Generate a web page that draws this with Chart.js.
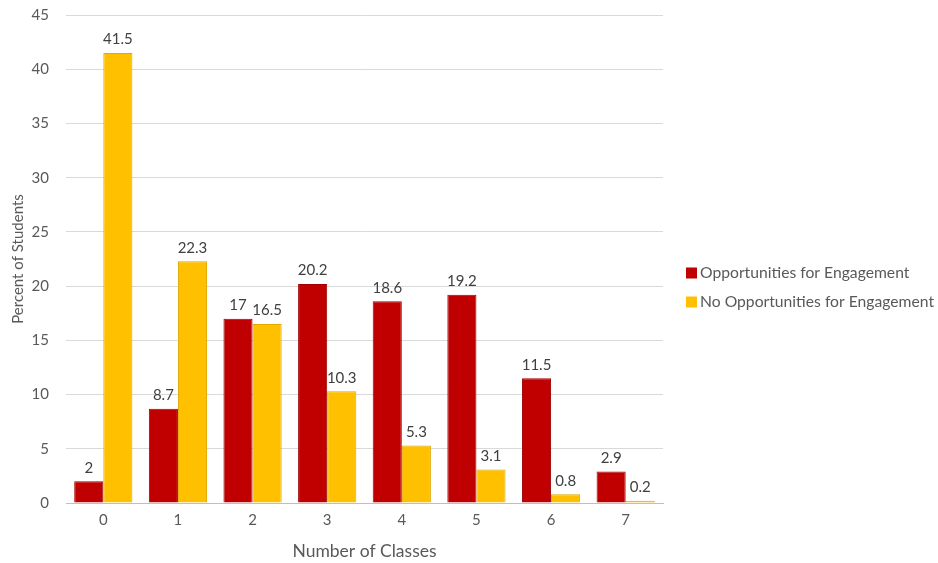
<!DOCTYPE html>
<html>
<head>
<meta charset="utf-8">
<script src="https://cdn.jsdelivr.net/npm/chart.js@4"></script>
<style>
  html, body { margin: 0; padding: 0; background: #fff; }
  #wrap { width: 938px; height: 563px; }
</style>
</head>
<body>
<div id="wrap"><canvas id="myChart"></canvas></div>
<script>
const clases = ["0", "1", "2", "3", "4", "5", "6", "7"];
const conOportunidades = [2, 8.7, 17, 20.2, 18.6, 19.2, 11.5, 2.9];
const sinOportunidades = [41.5, 22.3, 16.5, 10.3, 5.3, 3.1, 0.8, 0.2];
const tituloX = "Number of Classes";
const tituloY = "Percent of Students";

const fuente = "Lato, 'Open Sans', sans-serif";
const gris = "#595959";

// Etiquetas de valor encima de cada barra
const etiquetas = {
  id: "etiquetas",
  afterDatasetsDraw(chart) {
    const ctx = chart.ctx;
    ctx.save();
    ctx.font = "15px " + fuente;
    ctx.fillStyle = "#404040";
    ctx.textAlign = "center";
    ctx.textBaseline = "bottom";
    chart.data.datasets.forEach((ds, i) => {
      const meta = chart.getDatasetMeta(i);
      meta.data.forEach((bar, j) => {
        ctx.fillText(String(ds.data[j]), bar.x, bar.y - 6);
      });
    });
    ctx.restore();
  },
};

// Leyenda a la derecha, centrada verticalmente
const leyenda = {
  id: "leyenda",
  afterDraw(chart) {
    const ctx = chart.ctx;
    const area = chart.chartArea;
    const x = area.right + 23;
    const yMid = (area.top + area.bottom) / 2 + 28.5;
    ctx.save();
    ctx.font = "15.7px " + fuente;
    ctx.textBaseline = "middle";
    ctx.textAlign = "left";
    chart.data.datasets.forEach((ds, i) => {
      const y = yMid + (i - 0.5) * 29;
      ctx.fillStyle = ds.backgroundColor;
      ctx.fillRect(x, y - 5.5, 11, 11);
      ctx.fillStyle = gris;
      ctx.fillText(ds.label, x + 14, y);
    });
    ctx.restore();
  },
};

const ctx = document.getElementById("myChart");
window.myChart = new Chart(ctx, {
  type: "bar",
  data: {
    labels: clases,
    datasets: [
      {
        label: "Opportunities for Engagement",
        data: conOportunidades,
        backgroundColor: "#C00000",
        borderColor: "#A00000",
        borderWidth: 1,
        categoryPercentage: 0.78,
        barPercentage: 1,
      },
      {
        label: "No Opportunities for Engagement",
        data: sinOportunidades,
        backgroundColor: "#FFC000",
        borderColor: "#E0A800",
        borderWidth: 1,
        categoryPercentage: 0.78,
        barPercentage: 1,
      },
    ],
  },
  options: {
    responsive: true,
    maintainAspectRatio: false,
    animation: false,
    layout: { padding: { top: 15, right: 275, left: 4, bottom: 1 } },
    plugins: {
      legend: { display: false },
      tooltip: { enabled: false },
    },
    scales: {
      x: {
        grid: { display: false, drawTicks: false },
        border: { color: "#BFBFBF" },
        ticks: { color: gris, font: { family: fuente, size: 15 }, padding: 8 },
        title: {
          display: true,
          text: tituloX,
          color: gris,
          font: { family: fuente, size: 17.5 },
          padding: { top: 4, bottom: 0 },
        },
      },
      y: {
        min: 0,
        max: 45,
        afterFit: (scale) => {
          scale.width = 62;
          scale.paddingTop = 0;
          scale.paddingBottom = 0;
        },
        ticks: { stepSize: 5, color: gris, font: { family: fuente, size: 15 }, padding: 17 },
        grid: { color: "#D9D9D9", drawTicks: false, lineWidth: 1 },
        border: { display: false },
        title: {
          display: true,
          text: tituloY,
          color: gris,
          font: { family: fuente, size: 15 },
          padding: { top: 5, bottom: 0 },
        },
      },
    },
  },
  plugins: [etiquetas, leyenda],
});
</script>
</body>
</html>
